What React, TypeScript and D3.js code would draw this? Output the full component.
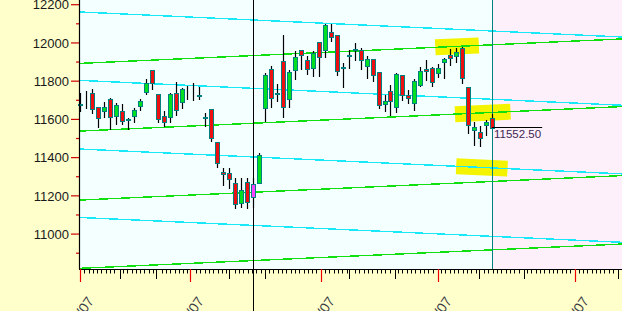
import React from 'react';
import * as d3 from 'd3';

const W = 622;
const H = 311;

// candle data (index = trading day)
const opens = [11675, 11704, 11736, 11663, 11645, 11705, 11619, 11645, 11602, 11619, 11671, 11745, 11858, 11731, 11618, 11611, 11736, 11692, 11740, 11756, 11724, 11609, 11653, 11480, 11326, 11318, 11265, 11161, 11274, 11195, 11269, 11659, 11865, 11738, 11904, 11706, 11860, 11961, 11909, 11869, 12005, 11961, 12057, 12040, 11872, 11933, 11964, 11964, 11881, 11916, 11848, 11682, 11747, 11663, 11831, 11729, 11686, 11781, 11864, 11867, 11844, 11899, 11937, 11933, 11972, 11771, 11544, 11535, 11569, 11606];
const highs = [11736, 11750, 11759, 11665, 11692, 11713, 11687, 11679, 11606, 11658, 11706, 11811, 11858, 11735, 11645, 11736, 11794, 11763, 11775, 11792, 11771, 11635, 11655, 11482, 11344, 11344, 11292, 11292, 11292, 11292, 11422, 11843, 11878, 11787, 12043, 11860, 11956, 11962, 11930, 11956, 12005, 12099, 12099, 12040, 11895, 11964, 11999, 11973, 11930, 11916, 11848, 11726, 11781, 11843, 11831, 11755, 11811, 11872, 11909, 11876, 11890, 11923, 11967, 11972, 11980, 11771, 11585, 11567, 11597, 11626];
const lows = [11645, 11658, 11632, 11562, 11611, 11550, 11574, 11574, 11550, 11585, 11649, 11731, 11757, 11588, 11567, 11588, 11623, 11661, 11705, 11701, 11705, 11567, 11488, 11349, 11256, 11239, 11135, 11140, 11135, 11143, 11269, 11593, 11663, 11694, 11612, 11663, 11811, 11865, 11839, 11825, 11825, 11925, 12012, 11831, 11769, 11869, 11912, 11865, 11817, 11799, 11659, 11642, 11624, 11637, 11703, 11686, 11651, 11773, 11808, 11776, 11823, 11815, 11884, 11899, 11792, 11527, 11466, 11462, 11518, 11552.5];
const closes = [11678, 11704, 11653, 11606, 11666, 11611, 11675, 11593, 11604, 11649, 11696, 11789, 11789, 11600, 11585, 11731, 11649, 11757, 11740, 11756, 11726, 11611, 11504, 11370, 11312, 11286, 11157, 11230, 11169, 11262, 11414, 11831, 11712, 11740, 11663, 11846, 11925, 11938, 11865, 11947, 11925, 12092, 12031, 11851, 11874, 11935, 11966, 11912, 11916, 11831, 11677, 11694, 11698, 11837, 11729, 11712, 11799, 11851, 11853, 11797, 11870, 11914, 11923, 11951, 11818, 11570, 11558, 11504, 11584, 11552.5];

const cursorIndex = 29;
const lastIndex = 69;
const lastPrice = 11552.5;
const lastLabel = '11552.50';
const priceLineEnd = 77.4;
const rightEdgeIndex = 90.8;

// price axis
const yTicks = [12200, 12000, 11800, 11600, 11400, 11200, 11000];
const yMinorTicks = [12100, 11900, 11700, 11500, 11300, 11100, 10900];

// channel lines (value at left edge, value at right edge)
const cyanStart = [12162, 11804, 11445, 11087];
const cyanEnd = [12031, 11674, 11315, 10957];
const greenStart = [11893, 11539, 11178, 10821];
const greenEnd = [12021, 11667, 11306, 10948];

// highlighted channel segments
const hlFamily = ['green', 'green', 'cyan'];
const hlLine = [0, 1, 2];
const hlFrom = [59.5, 62.8, 63.0];
const hlTo = [66.8, 72.1, 71.6];

// time axis
const xMajorTicks = [0, 18.5, 40.4, 60, 82.9];
const xMajorLabels = ['08/01/07', '09/04/07', '10/01/07', '11/01/07', '12/03/07'];
const xMediumTicks = [6.7, 12.7, 24.9, 31, 45.1, 52.8, 66.8, 74.4, 90.1];

const FONT = '"Liberation Sans", Arial, sans-serif';

export default function App() {
  const left = 80;
  const plotBottom = 269;
  const x = d3.scaleLinear().domain([0, lastIndex]).range([left, 492]);
  const y = d3.scaleLinear().domain([10820, 12224.6]).range([268.5, 0]);

  const chanY = (s: number, e: number, i: number) => {
    const t = i / rightEdgeIndex;
    return y(s + (e - s) * t);
  };

  const minorTicks = d3.range(0, rightEdgeIndex, 0.72).filter(
    (t) => !xMajorTicks.some((m) => Math.abs(m - t) < 0.4) && !xMediumTicks.some((m) => Math.abs(m - t) < 0.4)
  );

  return (
    <svg width={W} height={H} style={{ position: 'absolute', left: 0, top: 0 }} xmlns="http://www.w3.org/2000/svg">
      <rect x={0} y={0} width={W} height={H} fill="#ffffcc" />
      <rect x={left} y={0} width={x(lastIndex) - left} height={plotBottom} fill="#f4ffff" />
      <rect x={x(lastIndex)} y={0} width={W - x(lastIndex)} height={plotBottom} fill="#fdf0fb" />

      {/* yellow highlight bands */}
      {hlFamily.map((f, k) => {
        const s = f === 'green' ? greenStart[hlLine[k]] : cyanStart[hlLine[k]];
        const e = f === 'green' ? greenEnd[hlLine[k]] : cyanEnd[hlLine[k]];
        return (
          <line key={'hl' + k} x1={x(hlFrom[k])} x2={x(hlTo[k])}
            y1={chanY(s, e, hlFrom[k])} y2={chanY(s, e, hlTo[k])}
            stroke="#f4f400" strokeWidth={16} strokeLinecap="butt" />
        );
      })}

      {/* channel lines */}
      {cyanStart.map((s, k) => (
        <line key={'c' + k} x1={x(0)} x2={x(rightEdgeIndex)} y1={chanY(s, cyanEnd[k], 0)} y2={chanY(s, cyanEnd[k], rightEdgeIndex)}
          stroke="#18e8f8" strokeWidth={1.4} shapeRendering="crispEdges" />
      ))}
      {greenStart.map((s, k) => (
        <line key={'g' + k} x1={x(0)} x2={x(rightEdgeIndex)} y1={chanY(s, greenEnd[k], 0)} y2={chanY(s, greenEnd[k], rightEdgeIndex)}
          stroke="#10e010" strokeWidth={1.4} shapeRendering="crispEdges" />
      ))}

      {/* cursor + last bar lines */}
      <line x1={Math.round(x(cursorIndex)) + 0.5} x2={Math.round(x(cursorIndex)) + 0.5} y1={0} y2={H} stroke="#000" strokeWidth={1} />
      <line x1={Math.round(x(lastIndex)) + 0.5} x2={Math.round(x(lastIndex)) + 0.5} y1={0} y2={plotBottom} stroke="#008080" strokeWidth={1} />

      {/* candles */}
      {opens.map((o, i) => {
        const c = closes[i];
        const ci = Math.round(x(i));
        const cx = ci + 0.5;
        const top = Math.round(y(Math.max(o, c))) + 0.5;
        const bot = Math.max(top + 1, Math.round(y(Math.min(o, c))) + 0.5);
        const up = c >= o;
        const fill = i === cursorIndex ? '#ff44ff' : up ? '#00e020' : '#ee1010';
        return (
          <g key={'k' + i}>
            <line x1={cx} x2={cx} y1={Math.round(y(highs[i]))} y2={Math.round(y(lows[i])) + 1} stroke="#000" strokeWidth={1.2} />
            {o !== c && (
              <rect x={ci - 1.5} y={top} width={4} height={bot - top}
                fill={fill} stroke="#008080" strokeWidth={1} />
            )}
          </g>
        );
      })}

      {/* last price marker */}
      <line x1={x(lastIndex)} x2={x(priceLineEnd)} y1={Math.round(y(lastPrice)) - 0.5} y2={Math.round(y(lastPrice)) - 0.5} stroke="#000" strokeWidth={1} />
      <text x={x(lastIndex) + 2} y={y(lastPrice) + 9.5} fontFamily={FONT} fontSize={11.5} fill="#3c2850">{lastLabel}</text>

      {/* axes */}
      <line x1={left - 0.5} x2={left - 0.5} y1={0} y2={plotBottom} stroke="#000" strokeWidth={1.2} />
      <line x1={left - 1} x2={W} y1={plotBottom + 0.5} y2={plotBottom + 0.5} stroke="#000" strokeWidth={1.2} />

      {yTicks.map((v) => (
        <g key={'yt' + v}>
          <line x1={left - 9} x2={left - 1} y1={y(v)} y2={y(v)} stroke="#cc0000" strokeWidth={1.2} />
          <text x={69} y={y(v)} dy="0.36em" textAnchor="end" fontFamily={FONT} fontSize={13} fill="#1a1a1a">{v}</text>
        </g>
      ))}
      {yMinorTicks.map((v) => (
        <line key={'ym' + v} x1={left - 4} x2={left - 1} y1={y(v)} y2={y(v)} stroke="#cc0000" strokeWidth={1.2} />
      ))}

      {minorTicks.map((t, k) => (
        <line key={'xm' + k} x1={Math.round(x(t)) + 0.5} x2={Math.round(x(t)) + 0.5} y1={plotBottom} y2={plotBottom + 4.5} stroke="#000" strokeWidth={1} />
      ))}
      {xMediumTicks.map((t, k) => (
        <line key={'xd' + k} x1={Math.round(x(t)) + 0.5} x2={Math.round(x(t)) + 0.5} y1={plotBottom} y2={plotBottom + 10} stroke="#000" strokeWidth={1} />
      ))}
      {xMajorTicks.map((t, k) => {
        const tx = Math.round(x(t)) + 0.5;
        return (
          <g key={'xM' + k}>
            <line x1={tx} x2={tx} y1={plotBottom} y2={plotBottom + 13} stroke="#ee0000" strokeWidth={1.2} />
            <text transform={`translate(${tx + 14},${plotBottom + 32}) rotate(-55)`} textAnchor="end" fontFamily={FONT} fontSize={14} fill="#3a3a44">{xMajorLabels[k]}</text>
          </g>
        );
      })}
    </svg>
  );
}
